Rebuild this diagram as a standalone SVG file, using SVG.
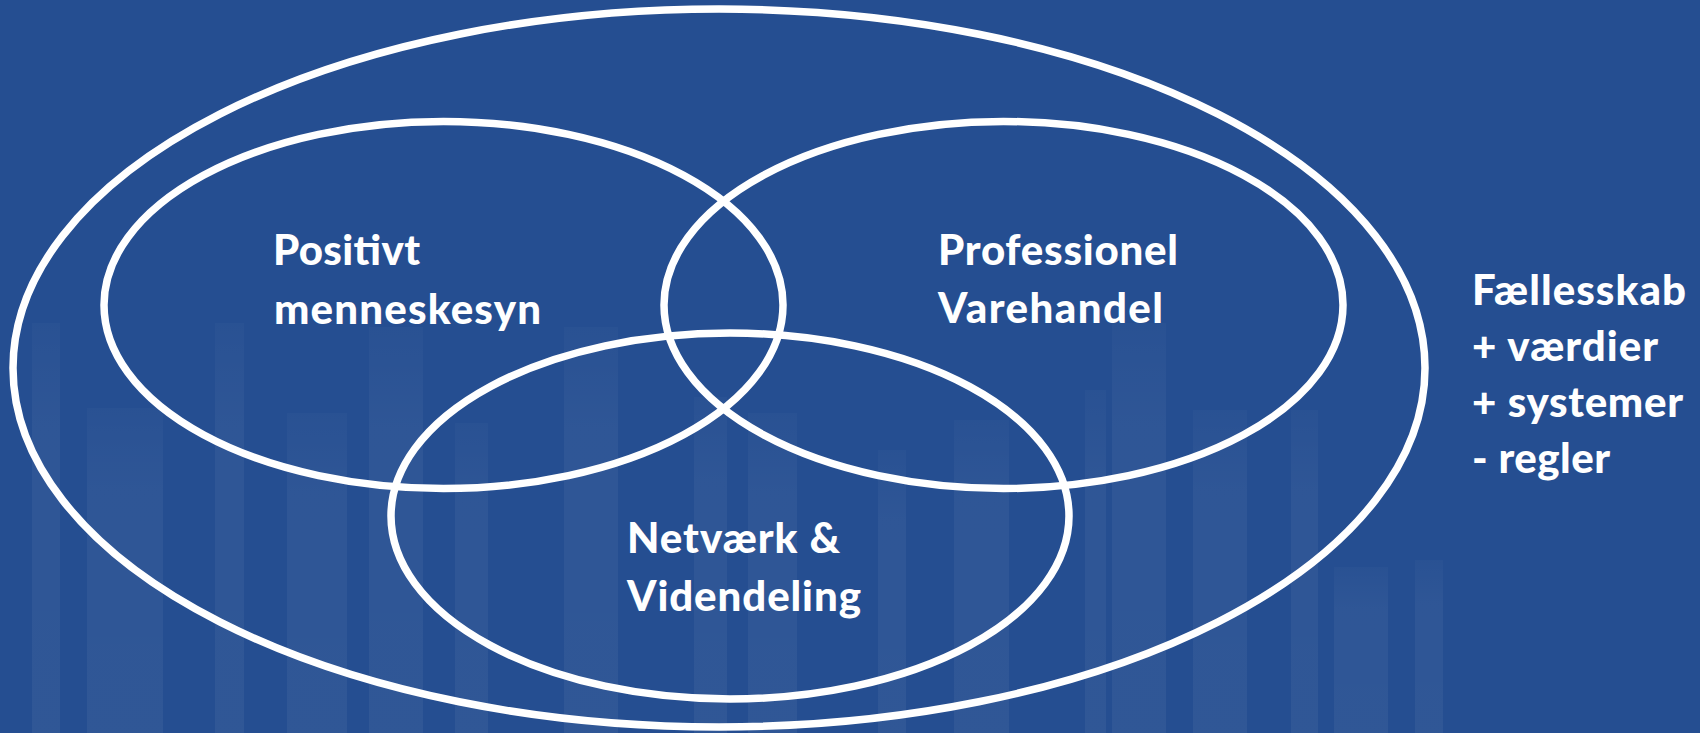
<svg xmlns="http://www.w3.org/2000/svg" width="1700" height="733" viewBox="0 0 1700 733">
  <defs>
    <linearGradient id="barFade" x1="0" y1="0" x2="0" y2="1">
      <stop offset="0" stop-color="#ffffff" stop-opacity="0.02"/>
      <stop offset="0.25" stop-color="#ffffff" stop-opacity="0.045"/>
      <stop offset="1" stop-color="#ffffff" stop-opacity="0.05"/>
    </linearGradient>
  </defs>
  <style>
    .bg { fill: #254E91; }
    .bar { fill: url(#barFade); }
    .ring { fill: none; stroke: #ffffff; stroke-width: 7.5; }
    .lbl { font-family: Lato, "Open Sans", "Liberation Sans", sans-serif; font-weight: 900; font-size: 42px; fill: #ffffff; }
  </style>
  <rect class="bg" x="0" y="0" width="1700" height="733"/>
  <g id="background-bars">
    <rect class="bar" x="32" y="323" width="28" height="410"/>
    <rect class="bar" x="87" y="408" width="76" height="325"/>
    <rect class="bar" x="215" y="323" width="29" height="410"/>
    <rect class="bar" x="287" y="413" width="60" height="320"/>
    <rect class="bar" x="369" y="327" width="54" height="406"/>
    <rect class="bar" x="455" y="423" width="33" height="310"/>
    <rect class="bar" x="564" y="327" width="54" height="406"/>
    <rect class="bar" x="694" y="397" width="33" height="336"/>
    <rect class="bar" x="748" y="413" width="49" height="320"/>
    <rect class="bar" x="878" y="450" width="28" height="283"/>
    <rect class="bar" x="954" y="420" width="55" height="313"/>
    <rect class="bar" x="1085" y="390" width="21" height="343"/>
    <rect class="bar" x="1112" y="323" width="54" height="410"/>
    <rect class="bar" x="1193" y="410" width="54" height="323"/>
    <rect class="bar" x="1291" y="410" width="27" height="323"/>
    <rect class="bar" x="1334" y="567" width="54" height="166"/>
    <rect class="bar" x="1415" y="560" width="28" height="173"/>
  </g>
  <g id="node-faellesskab">
    <ellipse class="ring" cx="719" cy="368" rx="706" ry="359"/>
    <text class="lbl" x="1472" y="305" textLength="214" lengthAdjust="spacing">Fællesskab</text>
    <text class="lbl" x="1472" y="361" textLength="186" lengthAdjust="spacing">+ værdier</text>
    <text class="lbl" x="1472" y="417" textLength="211" lengthAdjust="spacing">+ systemer</text>
    <text class="lbl" x="1472" y="473" textLength="138" lengthAdjust="spacing">- regler</text>
  </g>
  <g id="node-positivt">
    <ellipse class="ring" cx="443.5" cy="305" rx="339.5" ry="183.5"/>
    <text class="lbl" x="273" y="265" textLength="147" lengthAdjust="spacing">Positivt</text>
    <text class="lbl" x="274" y="324" textLength="267" lengthAdjust="spacing">menneskesyn</text>
  </g>
  <g id="node-professionel">
    <ellipse class="ring" cx="1003.5" cy="305" rx="339.5" ry="183.5"/>
    <text class="lbl" x="938" y="265" textLength="240" lengthAdjust="spacing">Professionel</text>
    <text class="lbl" x="938" y="323" textLength="225" lengthAdjust="spacing">Varehandel</text>
  </g>
  <g id="node-netvaerk">
    <ellipse class="ring" cx="730" cy="516" rx="339" ry="183"/>
    <text class="lbl" x="627" y="553" textLength="213" lengthAdjust="spacing">Netværk &amp;</text>
    <text class="lbl" x="627" y="611" textLength="234" lengthAdjust="spacing">Videndeling</text>
  </g>
  <g id="connectors"/>
</svg>
